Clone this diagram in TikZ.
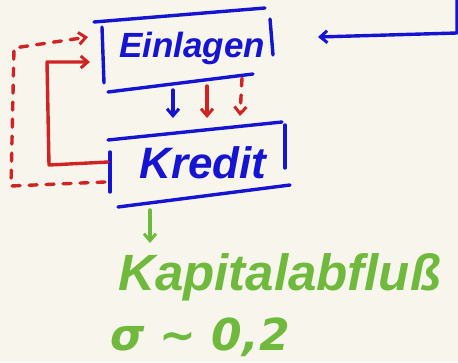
\documentclass[tikz,border=0pt]{standalone}
\usepackage{fontspec}
\setmainfont{Liberation Sans}
\newfontfamily\symfont{DejaVu Sans}
\usetikzlibrary{arrows.meta}
\definecolor{bg}{HTML}{F8F5EC}
\definecolor{inkblue}{HTML}{1414D2}
\definecolor{inkred}{HTML}{D02424}
\definecolor{inkgreen}{HTML}{6FBA3C}
\begin{document}
\begin{tikzpicture}[x=1pt,y=-1pt,line cap=round,line join=round,
  pen/.style={line width=3.4pt},
  bluepen/.style={pen,draw=inkblue},
  redpen/.style={pen,draw=inkred},
  greenpen/.style={pen,draw=inkgreen},
  reddash/.style={redpen,dash pattern=on 8pt off 9pt},
  tip/.style={-{Straight Barb[length=7pt,width=12pt,line width=3pt]}},
  label/.style={inner sep=0pt,font=\bfseries\itshape}]
\fill[bg] (0,0) rectangle (458,362);
\useasboundingbox (0,0) rectangle (458,362);

% Einlagen box
\node[label,text=inkblue,font=\fontsize{35}{38}\selectfont\bfseries\itshape] (E) at (192,48) {Einlagen};
\draw[bluepen] (94,22) -- (265,8);
\draw[bluepen] (270,19) -- (273,55);
\draw[bluepen] (102,27) -- (104,83);
\draw[bluepen] (108,92) -- (253,74);

% Kredit box
\node[label,text=inkblue,font=\fontsize{44}{48}\selectfont\bfseries\itshape] (K) at (203,163) {Kredit};
\draw[bluepen] (108,140) -- (282,122);
\draw[bluepen] (285,125) -- (285,168);
\draw[bluepen] (110,152) -- (110,192);
\draw[bluepen] (118,207) -- (290,185);

% arrows Einlagen -> Kredit
\coordinate (b1) at (173,90); \coordinate (b2) at (173,118);
\coordinate (r1) at (207,86); \coordinate (r2) at (207,118);
\coordinate (d1) at (242,78); \coordinate (d2) at (240,116);
\draw[bluepen,tip] (b1) -- (b2);
\draw[redpen,tip] (r1) -- (r2);
\draw[reddash,tip] (d1) -- (d2);

% red feedback loops
\coordinate (fs1) at (108,162); \coordinate (fs2) at (90,62);
\draw[redpen,tip] (fs1) -- (49,165) -- (47,62) -- (fs2);
\coordinate (fd1) at (105,182); \coordinate (fd2) at (88,37);
\draw[reddash,tip] (fd1) -- (11,186) -- (14,48) -- (fd2);

% blue incoming arrow
\coordinate (in1) at (457,-3); \coordinate (in2) at (318,37);
\draw[bluepen,tip] (in1) -- (457,33) -- (in2);

% green
\coordinate (g1) at (150,210); \coordinate (g2) at (150,243);
\draw[greenpen,tip] (g1) -- (g2);
\node[label,text=inkgreen,font=\fontsize{51}{55}\selectfont\bfseries\itshape,anchor=west] (A) at (118,277) {Kapitalabfluß};
\node[label,text=inkgreen,font=\fontsize{44}{48}\selectfont\symfont\bfseries\itshape,anchor=west] (S) at (110,337) {σ ∼ 0,2};
\end{tikzpicture}
\end{document}
